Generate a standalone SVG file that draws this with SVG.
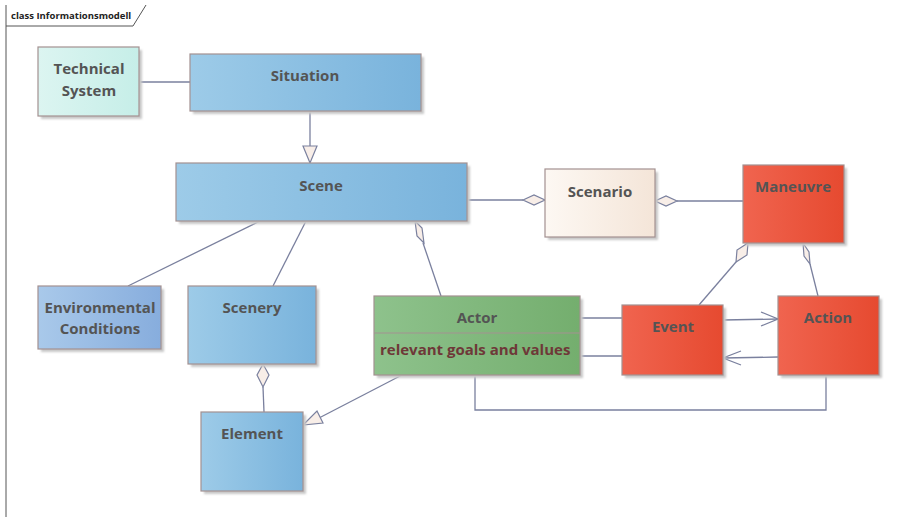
<svg xmlns="http://www.w3.org/2000/svg" width="911" height="517" viewBox="0 0 911 517">
  <defs>
    <linearGradient id="gBlue" x1="0" y1="0" x2="1" y2="0">
      <stop offset="0" stop-color="#9dcbe8"/>
      <stop offset="1" stop-color="#79b3dc"/>
    </linearGradient>
    <linearGradient id="gEnv" x1="0" y1="0" x2="1" y2="0">
      <stop offset="0" stop-color="#a9c9ea"/>
      <stop offset="1" stop-color="#87addd"/>
    </linearGradient>
    <linearGradient id="gCyan" x1="0" y1="0" x2="1" y2="0">
      <stop offset="0" stop-color="#dcf5f1"/>
      <stop offset="1" stop-color="#c6eee8"/>
    </linearGradient>
    <linearGradient id="gCream" x1="0" y1="0" x2="1" y2="0">
      <stop offset="0" stop-color="#fdf8f3"/>
      <stop offset="1" stop-color="#f4e5d8"/>
    </linearGradient>
    <linearGradient id="gRed" x1="0" y1="0" x2="1" y2="0">
      <stop offset="0" stop-color="#f0644f"/>
      <stop offset="1" stop-color="#e64a30"/>
    </linearGradient>
    <linearGradient id="gGreen" x1="0" y1="0" x2="1" y2="0">
      <stop offset="0" stop-color="#8ec28c"/>
      <stop offset="1" stop-color="#74ae6e"/>
    </linearGradient>
    <filter id="shadow" x="-10%" y="-10%" width="130%" height="130%">
      <feGaussianBlur stdDeviation="1"/>
    </filter>
  </defs>
  <style>
    .box { stroke: #a39191; stroke-width: 1.2; }
    .sh { fill: #c8c8c8; filter: url(#shadow); }
    .lbl { font-family: "Open Sans", "Noto Sans", "Liberation Sans", sans-serif; font-weight: bold; font-size: 15px; fill: #545454; text-anchor: middle; }
    .attr { font-family: "Open Sans", "Noto Sans", "Liberation Sans", sans-serif; font-weight: bold; font-size: 15px; fill: #6e3838; }
    .ln { fill: none; stroke: #7a809e; stroke-width: 1.3; }
    .dia { fill: #f8eee8; stroke: #7a809e; stroke-width: 1.2; }
    .frame { fill: none; stroke: #555; stroke-width: 1; }
    .title { font-family: "Open Sans", "Noto Sans", "Liberation Sans", sans-serif; font-weight: bold; font-size: 9.5px; fill: #222; }
  </style>

  <!-- diagram frame with name tab -->
  <g id="frame">
    <path class="frame" d="M6,517 V5 M146,5 L133,26 H6"/>
    <text class="title" x="11" y="19">class Informationsmodell</text>
  </g>

  <!-- connectors -->
  <g id="connectors">
    <!-- Technical System - Situation -->
    <line class="ln" x1="139" y1="82" x2="190" y2="82"/>
    <!-- Situation generalizes to Scene -->
    <line class="ln" x1="310" y1="111" x2="310" y2="146"/>
    <polygon class="dia" points="303,146 317,146 310,163"/>
    <!-- Scene - Scenario aggregation -->
    <line class="ln" x1="467" y1="200" x2="523" y2="200"/>
    <polygon class="dia" points="523,200 534,195 545,200 534,205"/>
    <!-- Maneuvre - Scenario aggregation -->
    <line class="ln" x1="677" y1="201" x2="743" y2="201"/>
    <polygon class="dia" points="655,201 666,196 677,201 666,206"/>
    <!-- Scene - Environmental Conditions -->
    <line class="ln" x1="260" y1="221" x2="128" y2="286"/>
    <!-- Scene - Scenery -->
    <line class="ln" x1="306" y1="221" x2="273" y2="286"/>
    <!-- Scene - Actor aggregation -->
    <polygon class="dia" points="415,221 422,228 424,243 417,236"/>
    <line class="ln" x1="423" y1="243" x2="441" y2="296"/>
    <!-- Scenery - Element aggregation -->
    <polygon class="dia" points="263,364 269,375 263,387 257,375"/>
    <line class="ln" x1="263" y1="387" x2="264" y2="412"/>
    <!-- Actor generalizes to Element -->
    <line class="ln" x1="402" y1="375" x2="319" y2="418"/>
    <polygon class="dia" points="303,425 317,411 323,423"/>
    <!-- Actor - Event -->
    <line class="ln" x1="580" y1="318" x2="622" y2="318"/>
    <line class="ln" x1="580" y1="356" x2="622" y2="356"/>
    <!-- Event to Action -->
    <line class="ln" x1="723" y1="320" x2="778" y2="319"/>
    <polyline class="ln" points="761,312 778,319 761,326"/>
    <!-- Action to Event -->
    <line class="ln" x1="778" y1="357" x2="723" y2="358"/>
    <polyline class="ln" points="741,351 723,358 741,365"/>
    <!-- Maneuvre - Event aggregation -->
    <polygon class="dia" points="748,243 747,255 736,262 737,250"/>
    <line class="ln" x1="736" y1="262" x2="699" y2="305"/>
    <!-- Maneuvre - Action aggregation -->
    <polygon class="dia" points="803,243 809,252 810,264 804,256"/>
    <line class="ln" x1="810" y1="264" x2="818" y2="296"/>
    <!-- Actor - Action -->
    <polyline class="ln" points="475,375 475,410 826,410 826,375"/>
  </g>

  <!-- nodes -->
  <g id="technical-system">
    <rect class="sh" x="41" y="50" width="101" height="69"/>
    <rect class="box" x="38" y="47" width="101" height="69" fill="url(#gCyan)"/>
    <text class="lbl" x="89" y="74">Technical</text>
    <text class="lbl" x="89" y="96">System</text>
  </g>

  <g id="situation">
    <rect class="sh" x="193" y="57" width="231" height="57"/>
    <rect class="box" x="190" y="54" width="231" height="57" fill="url(#gBlue)"/>
    <text class="lbl" x="305" y="81">Situation</text>
  </g>

  <g id="scene">
    <rect class="sh" x="179" y="166" width="291" height="58"/>
    <rect class="box" x="176" y="163" width="291" height="58" fill="url(#gBlue)"/>
    <text class="lbl" x="321" y="191">Scene</text>
  </g>

  <g id="scenario">
    <rect class="sh" x="548" y="172" width="110" height="68"/>
    <rect class="box" x="545" y="169" width="110" height="68" fill="url(#gCream)"/>
    <text class="lbl" x="600" y="197">Scenario</text>
  </g>

  <g id="maneuvre">
    <rect class="sh" x="746" y="168" width="101" height="78"/>
    <rect class="box" x="743" y="165" width="101" height="78" fill="url(#gRed)"/>
    <text class="lbl" x="793" y="192">Maneuvre</text>
  </g>

  <g id="environmental-conditions">
    <rect class="sh" x="41" y="289" width="123" height="63"/>
    <rect class="box" x="38" y="286" width="123" height="63" fill="url(#gEnv)"/>
    <text class="lbl" x="100" y="313">Environmental</text>
    <text class="lbl" x="100" y="334">Conditions</text>
  </g>

  <g id="scenery">
    <rect class="sh" x="191" y="289" width="128" height="78"/>
    <rect class="box" x="188" y="286" width="128" height="78" fill="url(#gBlue)"/>
    <text class="lbl" x="252" y="313">Scenery</text>
  </g>

  <g id="actor">
    <rect class="sh" x="377" y="299" width="206" height="79"/>
    <rect class="box" x="374" y="296" width="206" height="79" fill="url(#gGreen)"/>
    <line class="box" x1="374" y1="333" x2="580" y2="333"/>
    <text class="lbl" x="477" y="323">Actor</text>
    <text class="attr" x="380" y="355">relevant goals and values</text>
  </g>

  <g id="event">
    <rect class="sh" x="625" y="308" width="101" height="70"/>
    <rect class="box" x="622" y="305" width="101" height="70" fill="url(#gRed)"/>
    <text class="lbl" x="673" y="332">Event</text>
  </g>

  <g id="action">
    <rect class="sh" x="781" y="299" width="101" height="79"/>
    <rect class="box" x="778" y="296" width="101" height="79" fill="url(#gRed)"/>
    <text class="lbl" x="828" y="323">Action</text>
  </g>

  <g id="element">
    <rect class="sh" x="204" y="415" width="102" height="79"/>
    <rect class="box" x="201" y="412" width="102" height="79" fill="url(#gBlue)"/>
    <text class="lbl" x="252" y="439">Element</text>
  </g>
</svg>
